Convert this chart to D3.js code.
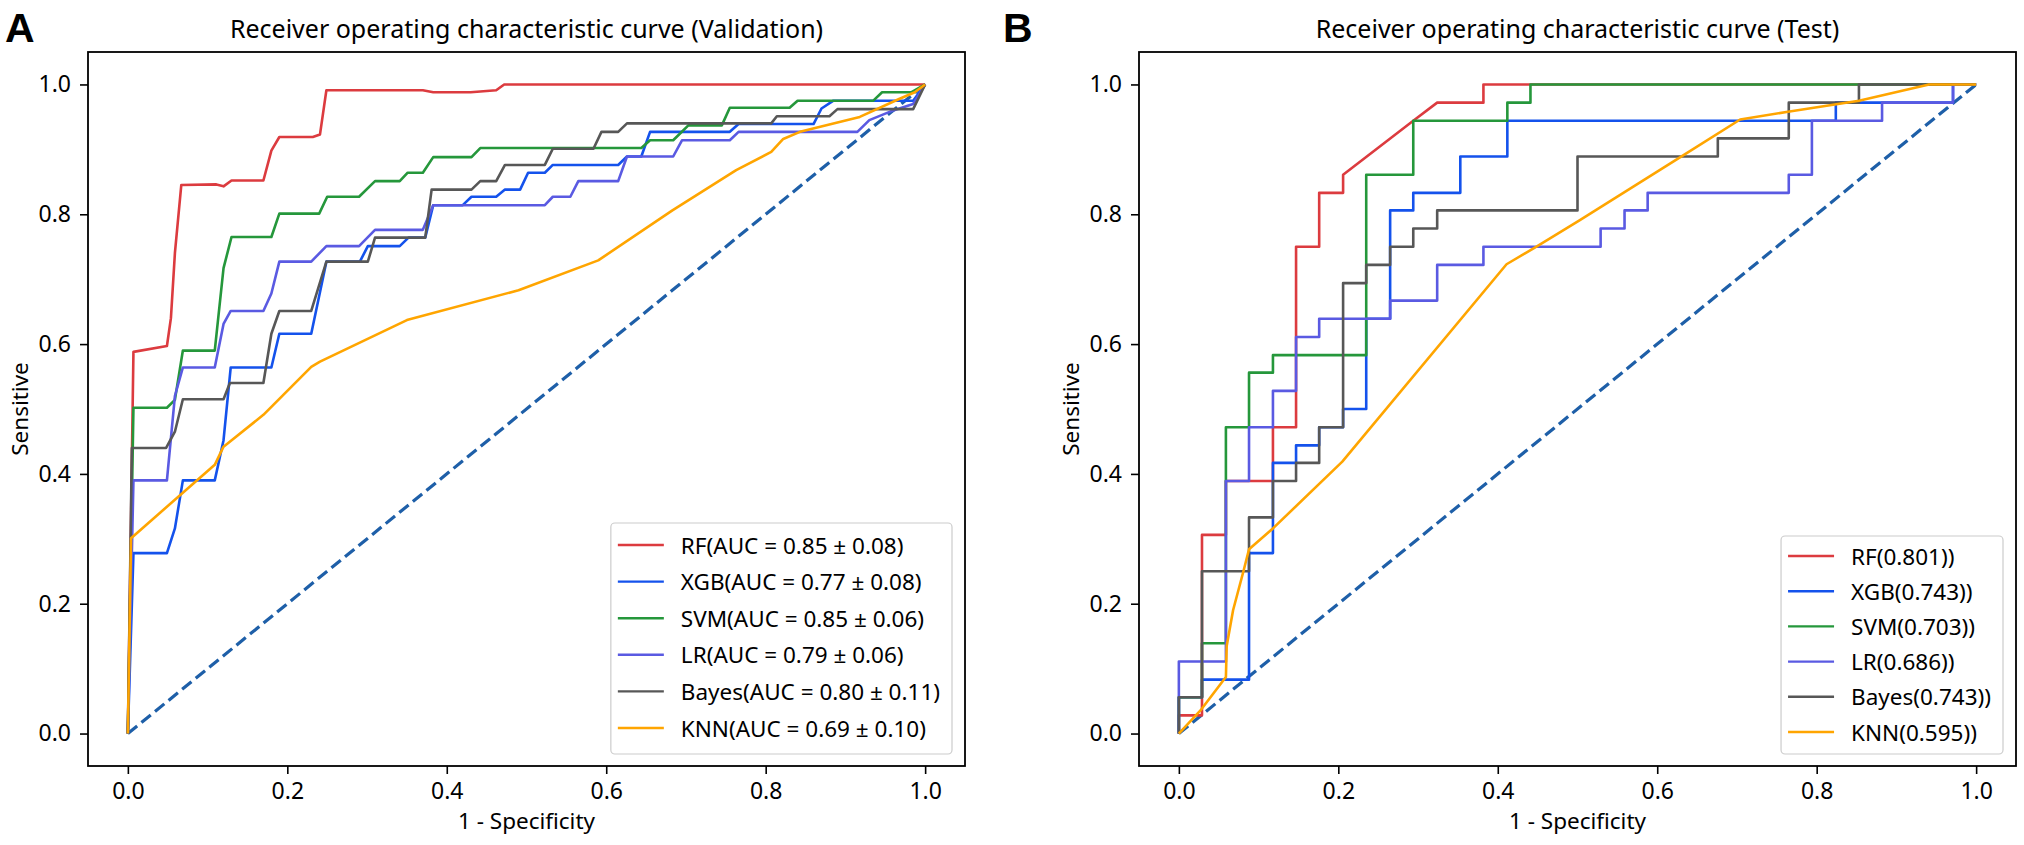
<!DOCTYPE html>
<html>
<head>
<meta charset="utf-8">
<script src="https://cdn.jsdelivr.net/npm/d3@7"></script>
<style>
    body { margin: 0; background: #fff; }
    svg text { font-family: "Noto Sans", "Open Sans", sans-serif; fill: #000; }
</style>
</head>
<body>
<div id="chartContainer"></div>
<script>
const models = ['RF', 'XGB', 'SVM', 'LR', 'Bayes', 'KNN'];
const colors = ['#dc3b3f', '#1452ec', '#25973b', '#5a5ae2', '#575757', '#ffa500'];
const validationLabels = [
    'RF(AUC = 0.85 \u00b1 0.08)', 'XGB(AUC = 0.77 \u00b1 0.08)', 'SVM(AUC = 0.85 \u00b1 0.06)',
    'LR(AUC = 0.79 \u00b1 0.06)', 'Bayes(AUC = 0.80 \u00b1 0.11)', 'KNN(AUC = 0.69 \u00b1 0.10)'
];
const testLabels = ['RF(0.801))', 'XGB(0.743))', 'SVM(0.703))', 'LR(0.686))', 'Bayes(0.743))', 'KNN(0.595))'];
const tickValues = [0, 0.2, 0.4, 0.6, 0.8, 1.0];

// validation (mean ROC) curves, [fpr, tpr]
const rfValidation = [[0,0],[0.007,0.588],[0.049,0.597],[0.054,0.64],[0.059,0.74],[0.067,0.845],[0.111,0.846],[0.12,0.843],[0.13,0.852],[0.17,0.852],[0.18,0.898],[0.19,0.919],[0.232,0.919],[0.241,0.923],[0.249,0.991],[0.37,0.991],[0.383,0.988],[0.43,0.988],[0.462,0.991],[0.472,1],[1,1]];
const xgbValidation = [[0,0],[0.007,0.278],[0.049,0.278],[0.059,0.316],[0.069,0.39],[0.109,0.39],[0.12,0.452],[0.129,0.564],[0.18,0.564],[0.19,0.616],[0.23,0.616],[0.249,0.727],[0.291,0.727],[0.301,0.751],[0.341,0.751],[0.352,0.764],[0.373,0.764],[0.383,0.814],[0.42,0.814],[0.431,0.827],[0.462,0.827],[0.473,0.838],[0.492,0.838],[0.502,0.864],[0.523,0.864],[0.533,0.876],[0.615,0.876],[0.626,0.889],[0.644,0.889],[0.655,0.927],[0.755,0.927],[0.766,0.939],[0.86,0.939],[0.87,0.963],[0.885,0.975],[0.985,0.975],[1,1]];
const svmValidation = [[0,0],[0.007,0.502],[0.049,0.502],[0.059,0.514],[0.069,0.59],[0.109,0.59],[0.12,0.717],[0.13,0.765],[0.18,0.765],[0.19,0.801],[0.24,0.801],[0.25,0.827],[0.29,0.827],[0.31,0.851],[0.341,0.851],[0.351,0.864],[0.37,0.864],[0.383,0.888],[0.431,0.888],[0.442,0.902],[0.644,0.902],[0.655,0.914],[0.684,0.914],[0.703,0.937],[0.745,0.937],[0.755,0.964],[0.83,0.964],[0.84,0.975],[0.935,0.975],[0.946,0.988],[0.983,0.988],[1,1]];
const lrValidation = [[0,0],[0.007,0.39],[0.049,0.39],[0.059,0.52],[0.069,0.564],[0.109,0.564],[0.12,0.631],[0.129,0.651],[0.17,0.651],[0.18,0.678],[0.19,0.727],[0.23,0.727],[0.249,0.751],[0.29,0.751],[0.31,0.776],[0.37,0.776],[0.383,0.814],[0.523,0.814],[0.533,0.827],[0.555,0.827],[0.565,0.851],[0.615,0.851],[0.626,0.889],[0.684,0.889],[0.695,0.914],[0.755,0.914],[0.766,0.927],[0.915,0.927],[0.93,0.945],[0.96,0.96],[0.985,0.97],[1,1]];
const bayesValidation = [[0,0],[0.005,0.44],[0.048,0.44],[0.059,0.465],[0.069,0.515],[0.12,0.515],[0.128,0.54],[0.17,0.54],[0.18,0.616],[0.19,0.651],[0.23,0.651],[0.249,0.727],[0.301,0.727],[0.31,0.764],[0.373,0.764],[0.381,0.838],[0.431,0.838],[0.442,0.851],[0.462,0.851],[0.473,0.876],[0.523,0.876],[0.533,0.901],[0.584,0.901],[0.594,0.927],[0.615,0.927],[0.626,0.94],[0.807,0.94],[0.814,0.951],[0.88,0.951],[0.89,0.962],[0.985,0.962],[1,1]];
const knnValidation = [[0,0],[0.004,0.301],[0.109,0.414],[0.12,0.442],[0.17,0.491],[0.23,0.565],[0.241,0.573],[0.35,0.637],[0.49,0.683],[0.59,0.729],[0.683,0.806],[0.763,0.868],[0.807,0.896],[0.822,0.916],[0.843,0.927],[0.918,0.95],[0.968,0.978],[0.987,0.988],[1,1]];

// test curves, [fpr, tpr]
const rfTest = [[0,0],[0,0.028],[0.029,0.028],[0.029,0.306],[0.059,0.306],[0.059,0.389],[0.118,0.389],[0.118,0.472],[0.147,0.472],[0.147,0.75],[0.176,0.75],[0.176,0.833],[0.206,0.833],[0.206,0.861],[0.294,0.944],[0.324,0.972],[0.382,0.972],[0.382,1],[1,1]];
const xgbTest = [[0,0],[0,0.056],[0.029,0.056],[0.029,0.083],[0.088,0.083],[0.088,0.278],[0.118,0.278],[0.118,0.417],[0.147,0.417],[0.147,0.444],[0.176,0.444],[0.176,0.472],[0.206,0.472],[0.206,0.5],[0.235,0.5],[0.235,0.639],[0.265,0.639],[0.265,0.806],[0.294,0.806],[0.294,0.833],[0.353,0.833],[0.353,0.889],[0.412,0.889],[0.412,0.944],[0.824,0.944],[0.824,0.972],[0.971,0.972],[0.971,1],[1,1]];
const svmTest = [[0,0],[0,0.056],[0.029,0.056],[0.029,0.139],[0.059,0.139],[0.059,0.472],[0.088,0.472],[0.088,0.556],[0.118,0.556],[0.118,0.583],[0.235,0.583],[0.235,0.861],[0.294,0.861],[0.294,0.944],[0.412,0.944],[0.412,0.972],[0.441,0.972],[0.441,1],[1,1]];
const lrTest = [[0,0],[0,0.111],[0.029,0.111],[0.059,0.111],[0.059,0.389],[0.088,0.389],[0.088,0.472],[0.118,0.472],[0.118,0.528],[0.147,0.528],[0.147,0.611],[0.176,0.611],[0.176,0.639],[0.265,0.639],[0.265,0.667],[0.324,0.667],[0.324,0.722],[0.382,0.722],[0.382,0.75],[0.529,0.75],[0.529,0.778],[0.559,0.778],[0.559,0.806],[0.588,0.806],[0.588,0.833],[0.765,0.833],[0.765,0.861],[0.794,0.861],[0.794,0.944],[0.882,0.944],[0.882,0.972],[0.971,0.972],[0.971,1],[1,1]];
const bayesTest = [[0,0],[0,0.056],[0.029,0.056],[0.029,0.25],[0.088,0.25],[0.088,0.333],[0.118,0.333],[0.118,0.389],[0.147,0.389],[0.147,0.417],[0.176,0.417],[0.176,0.472],[0.206,0.472],[0.206,0.694],[0.235,0.694],[0.235,0.722],[0.265,0.722],[0.265,0.75],[0.294,0.75],[0.294,0.778],[0.324,0.778],[0.324,0.806],[0.5,0.806],[0.5,0.889],[0.676,0.889],[0.676,0.917],[0.765,0.917],[0.765,0.972],[0.853,0.972],[0.853,1],[1,1]];
const knnTest = [[0,0],[0.028,0.037],[0.059,0.087],[0.06,0.135],[0.068,0.19],[0.081,0.25],[0.088,0.284],[0.118,0.316],[0.205,0.419],[0.411,0.723],[0.447,0.749],[0.503,0.791],[0.633,0.891],[0.704,0.946],[0.764,0.958],[0.853,0.975],[0.941,1],[1,1]];

const svgWidth = 2024;
const svgHeight = 845;
const plotWidth = 877;
const plotHeight = 714;

const panels = [
    {
        letter: 'A', letterX: 5, left: 88, top: 52,
        title: 'Receiver operating characteristic curve (Validation)',
        curves: [rfValidation, xgbValidation, svmValidation, lrValidation, bayesValidation, knnValidation],
        labels: validationLabels, legendTop: 523, legendRow: 36.6, legendFirst: 22
    },
    {
        letter: 'B', letterX: 1003, left: 1139, top: 52,
        title: 'Receiver operating characteristic curve (Test)',
        curves: [rfTest, xgbTest, svmTest, lrTest, bayesTest, knnTest],
        labels: testLabels, legendTop: 536, legendRow: 35.2, legendFirst: 20
    }
];

const svg = d3.select('#chartContainer')
    .append('svg')
    .attr('width', svgWidth)
    .attr('height', svgHeight);

const xScale = d3.scaleLinear().domain([-0.05, 1.05]).range([0, plotWidth]);
const yScale = d3.scaleLinear().domain([-0.05, 1.05]).range([plotHeight, 0]);

const line = d3.line()
    .x(d => xScale(d[0]))
    .y(d => yScale(d[1]));

panels.forEach(p => {
    svg.append('text')
        .attr('x', p.letterX)
        .attr('y', 42)
        .style('font-family', '"Liberation Sans", Arial, sans-serif')
        .style('font-weight', 'bold')
        .style('font-size', '41px')
        .text(p.letter);

    const chart = svg.append('g')
        .attr('transform', `translate(${p.left}, ${p.top})`);

    chart.append('text')
        .attr('x', plotWidth / 2)
        .attr('y', 38 - p.top)
        .attr('text-anchor', 'middle')
        .style('font-size', '25px')
        .text(p.title);

    // diagonal reference
    chart.append('path')
        .datum([[0, 0], [1, 1]])
        .attr('d', line)
        .attr('fill', 'none')
        .attr('stroke', '#1e5fa8')
        .attr('stroke-width', 3.2)
        .attr('stroke-dasharray', '12,5.5');

    chart.selectAll('.curve')
        .data(p.curves)
        .enter()
        .append('path')
        .attr('class', 'curve')
        .attr('d', line)
        .attr('fill', 'none')
        .attr('stroke', (d, i) => colors[i])
        .attr('stroke-width', 2.6)
        .attr('stroke-linejoin', 'round');

    const yAxis = d3.axisLeft(yScale)
        .tickValues(tickValues)
        .tickSize(8)
        .tickPadding(9)
        .tickFormat(d3.format('.1f'));
    const xAxis = d3.axisBottom(xScale)
        .tickValues(tickValues)
        .tickSize(8)
        .tickPadding(9)
        .tickFormat(d3.format('.1f'));

    const gy = chart.append('g').call(yAxis);
    const gx = chart.append('g').attr('transform', `translate(0, ${plotHeight})`).call(xAxis);
    [gx, gy].forEach(g => {
        g.select('.domain').remove();
        g.selectAll('line').attr('stroke', '#000').attr('stroke-width', 1.6);
        g.selectAll('text').style('font-size', '23px').attr('fill', '#000');
    });

    chart.append('rect')
        .attr('width', plotWidth)
        .attr('height', plotHeight)
        .attr('fill', 'none')
        .attr('stroke', '#000')
        .attr('stroke-width', 1.8);

    chart.append('text')
        .attr('x', plotWidth / 2)
        .attr('y', 829 - p.top)
        .attr('text-anchor', 'middle')
        .style('font-size', '22.5px')
        .text('1 - Specificity');

    chart.append('text')
        .attr('transform', `translate(${-69}, ${plotHeight / 2}) rotate(-90)`)
        .attr('text-anchor', 'middle')
        .attr('dominant-baseline', 'central')
        .style('font-size', '22.5px')
        .text('Sensitive');

    // legend, anchored lower right
    const legend = chart.append('g');
    const box = legend.append('rect')
        .attr('fill', '#fff')
        .attr('fill-opacity', 0.8)
        .attr('stroke', '#cccccc')
        .attr('stroke-width', 1.2)
        .attr('rx', 4);

    const texts = legend.selectAll('.legend-text')
        .data(p.labels)
        .enter()
        .append('text')
        .attr('class', 'legend-text')
        .attr('dominant-baseline', 'central')
        .style('font-size', '22.5px')
        .text(d => d);

    const maxW = d3.max(texts.nodes(), n => n.getComputedTextLength());
    const boxW = 70 + maxW + 12;
    const boxTop = p.legendTop - p.top;
    const boxH = plotHeight - 12 - boxTop;
    const boxLeft = plotWidth - 13 - boxW;

    box.attr('x', boxLeft).attr('y', boxTop).attr('width', boxW).attr('height', boxH);

    texts.attr('x', boxLeft + 70)
        .attr('y', (d, i) => boxTop + p.legendFirst + i * p.legendRow);

    legend.selectAll('.legend-line')
        .data(p.labels)
        .enter()
        .append('line')
        .attr('x1', boxLeft + 7)
        .attr('x2', boxLeft + 53)
        .attr('y1', (d, i) => boxTop + p.legendFirst + i * p.legendRow)
        .attr('y2', (d, i) => boxTop + p.legendFirst + i * p.legendRow)
        .attr('stroke', (d, i) => colors[i])
        .attr('stroke-width', 2.4);
});
</script>
</body>
</html>
